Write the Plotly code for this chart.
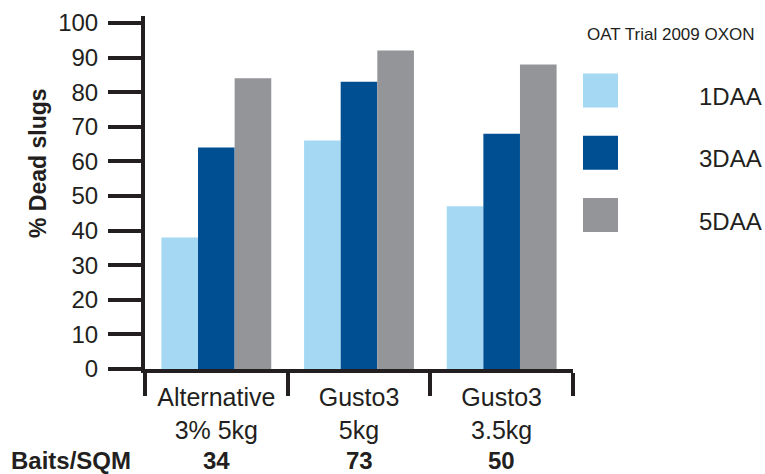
import plotly.graph_objects as go

categories = ["Alternative<br>3% 5kg", "Gusto3<br>5kg", "Gusto3<br>3.5kg"]
series_names = ["1DAA", "3DAA", "5DAA"]
daa1 = [38, 66, 47]
daa3 = [64, 83, 68]
daa5 = [84, 92, 88]
baits = [34, 73, 50]
y_ticks = [0, 10, 20, 30, 40, 50, 60, 70, 80, 90, 100]
legend_title = "OAT Trial 2009 OXON"
y_title = "% Dead slugs"
baits_label = "Baits/SQM"

colors = ["#a5d8f3", "#004f93", "#939598"]
ink = "#231f20"
FONT = "Liberation Sans, Arial, Helvetica, sans-serif"

W, H = 765, 474
L, R, T, B = 145, 192, 16, 105
PW, PH = W - L - R, H - T - B


def px_x(px):
    return (px - L) / PW


def px_y(py):
    return (H - B - py) / PH


fig = go.Figure()
for name, vals, col in zip(series_names, [daa1, daa3, daa5], colors):
    fig.add_trace(go.Bar(x=categories, y=vals, name=name, marker_color=col,
                         marker_line_width=0, showlegend=False))

shapes = []
annotations = []

# legend (custom, large swatches)
annotations.append(dict(text=legend_title, x=px_x(585), y=px_y(34), xref="paper", yref="paper",
                        xanchor="left", yanchor="middle", showarrow=False,
                        font=dict(family=FONT, size=17, color=ink)))
for i, (name, col) in enumerate(zip(series_names, colors)):
    cy = 90.5 + i * 62.3
    shapes.append(dict(type="rect", xref="paper", yref="paper",
                       x0=px_x(583), x1=px_x(618), y0=px_y(cy + 17), y1=px_y(cy - 17),
                       fillcolor=col, line_width=0))
    annotations.append(dict(text=name, x=px_x(697), y=px_y(cy + 6), xref="paper", yref="paper",
                            xanchor="left", yanchor="middle", showarrow=False,
                            font=dict(family=FONT, size=24, color=ink)))

# y title
annotations.append(dict(text="<b>" + y_title + "</b>", x=px_x(38), y=px_y(163), xref="paper",
                        yref="paper", textangle=-90, showarrow=False, xanchor="center",
                        yanchor="middle", font=dict(family=FONT, size=23, color=ink)))

# baits row
annotations.append(dict(text="<b>" + baits_label + "</b>", x=px_x(9), y=px_y(460), xref="paper",
                        yref="paper", xanchor="left", yanchor="middle", showarrow=False,
                        font=dict(family=FONT, size=24, color=ink)))
for cat, b in zip(categories, baits):
    annotations.append(dict(text="<b>%d</b>" % b, x=cat, y=px_y(460), xref="x", yref="paper",
                            xanchor="center", yanchor="middle", showarrow=False,
                            font=dict(family=FONT, size=24, color=ink)))

fig.update_layout(
    width=W, height=H,
    margin=dict(l=L, r=R, t=T, b=B, autoexpand=False),
    paper_bgcolor="white", plot_bgcolor="white",
    barmode="group", bargap=0.23, bargroupgap=0,
    shapes=shapes, annotations=annotations,
    font=dict(family=FONT, size=24, color=ink),
    xaxis=dict(showline=True, linewidth=4, linecolor=ink, ticks="outside", ticklen=23,
               tickwidth=4, tickcolor=ink, tickson="boundaries", showgrid=False,
               tickfont=dict(family=FONT, size=25, color=ink), ticklabelstandoff=3),
    yaxis=dict(range=[0, 102], tickvals=y_ticks, showline=True, linewidth=4, linecolor=ink,
               ticks="outside", ticklen=33, tickwidth=4, tickcolor=ink, showgrid=False,
               zeroline=False, tickfont=dict(family=FONT, size=24, color=ink),
               ticklabelstandoff=5),
)

fig.write_html("out.html", config={"displayModeBar": False},
               post_script="document.body.style.margin='0';document.body.style.overflow='hidden';")
